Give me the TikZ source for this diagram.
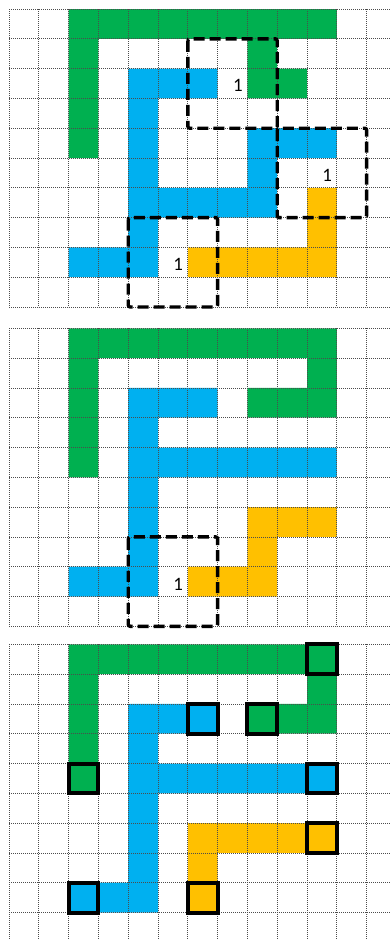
\documentclass[tikz,border=0pt]{standalone}
\usepackage{fontspec}
\setmainfont{Carlito}
\definecolor{cgreen}{HTML}{00B050}
\definecolor{cblue}{HTML}{00B0F0}
\definecolor{cyellow}{HTML}{FFC000}
\tikzset{
  gridline/.style={black!70, line width=0.7bp, dash pattern=on 1bp off 1bp},
  gfill/.style={fill=cgreen},
  bfill/.style={fill=cblue},
  yfill/.style={fill=cyellow},
  window/.style={draw=black, line width=3.4bp, dash pattern=on 11bp off 5bp, rounded corners=2bp},
  endcell/.style={draw=black, line width=4bp},
  countlabel/.style={font=\fontsize{19}{19}\selectfont, inner sep=0pt, text=black}
}
\begin{document}
\begin{tikzpicture}
\useasboundingbox (0,0) rectangle (390bp,-939bp);
\fill[white] (0,0) rectangle (390bp,-939bp);

% ---------- grid 1 ----------
\begin{scope}[shift={(9bp,-9bp)}, x=29.8bp, y=-29.8bp]
  \fill[gfill] (2,0) rectangle (11,1) (2,0) rectangle (3,5) (8,1) rectangle (9,3) (9,2) rectangle (10,3);
  \fill[bfill] (4,2) rectangle (7,3) (4,2) rectangle (5,9) (4,6) rectangle (9,7) (8,4) rectangle (9,7) (8,4) rectangle (11,5) (2,8) rectangle (5,9);
  \fill[yfill] (10,6) rectangle (11,9) (6,8) rectangle (11,9);
  \foreach \r in {0,...,10} \draw[gridline] (0,\r) -- (12.785,\r);
  \foreach \c in {0,...,12} \draw[gridline] (\c,0) -- (\c,10);
  \draw[window] (6,1) rectangle (9,4);
  \draw[window] (9,4) rectangle (12,7);
  \draw[window] (4,7) rectangle (7,10);
  \node[countlabel] (la1) at (7.68,2.58) {1};
  \node[countlabel] (la2) at (10.68,5.58) {1};
  \node[countlabel] (la3) at (5.68,8.58) {1};
\end{scope}

% ---------- grid 2 ----------
\begin{scope}[shift={(9bp,-328.3bp)}, x=29.8bp, y=-29.8bp]
  \fill[gfill] (2,0) rectangle (11,1) (2,0) rectangle (3,5) (10,0) rectangle (11,3) (8,2) rectangle (11,3);
  \fill[bfill] (4,2) rectangle (7,3) (4,2) rectangle (5,9) (4,4) rectangle (11,5) (2,8) rectangle (5,9);
  \fill[yfill] (8,6) rectangle (11,7) (8,6) rectangle (9,9) (6,8) rectangle (9,9);
  \foreach \r in {0,...,10} \draw[gridline] (0,\r) -- (12.785,\r);
  \foreach \c in {0,...,12} \draw[gridline] (\c,0) -- (\c,10);
  \draw[window] (4,7) rectangle (7,10);
  \node[countlabel] (lb1) at (5.68,8.58) {1};
\end{scope}

% ---------- grid 3 ----------
\begin{scope}[shift={(9bp,-644.3bp)}, x=29.8bp, y=-29.8bp]
  \fill[gfill] (2,0) rectangle (11,1) (2,0) rectangle (3,5) (10,0) rectangle (11,3) (8,2) rectangle (11,3);
  \fill[bfill] (4,2) rectangle (7,3) (4,2) rectangle (5,9) (4,4) rectangle (11,5) (2,8) rectangle (5,9);
  \fill[yfill] (6,6) rectangle (11,7) (6,6) rectangle (7,9);
  \foreach \r in {0,...,9} \draw[gridline] (0,\r) -- (12.785,\r);
  \foreach \c in {0,...,12} \draw[gridline] (\c,0) -- (\c,9.9);
  \foreach \c/\r in {10/0,6/2,8/2,2/4,10/4,10/6,2/8,6/8}
    \draw[endcell] (\c,\r) rectangle ++(1,1);
\end{scope}
\end{tikzpicture}
\end{document}
